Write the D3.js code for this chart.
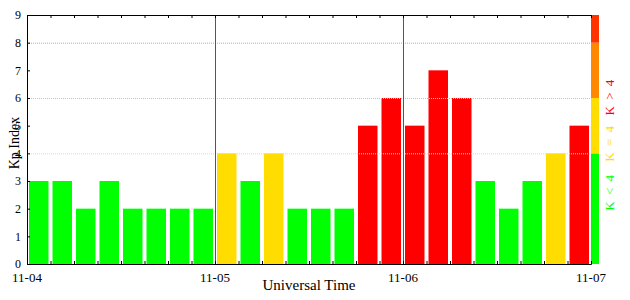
<!DOCTYPE html>
<html>
<head>
<meta charset="utf-8">
<script src="https://cdn.jsdelivr.net/npm/d3@7"></script>
<style>
body { margin: 0; background: #fff; }
text { font-family: "Liberation Serif", "DejaVu Serif", serif; }
</style>
</head>
<body>
<script>
// Kp values, 3-hour intervals, 11-04 to 11-07
var kpValues = [3, 3, 2, 3, 2, 2, 2, 2,
                4, 3, 4, 2, 2, 2, 5, 6,
                5, 7, 6, 3, 2, 3, 4, 5];
var dayLabels = ["11-04", "11-05", "11-06", "11-07"];
var yTicks = [0, 1, 2, 3, 4, 5, 6, 7, 8, 9];
var gridLevels = [4, 6, 8];
var gridColors = ["#ffdd55", "#ffaaaa", "#ff8888"];
var bands = [[0, 4, "#00ff00"], [4, 6, "#ffdd00"], [6, 8, "#ff8800"], [8, 9, "#ff3300"]];
var legendLabels = ["K < 4", "K = 4", "K > 4"];
var legendColors = ["#00ff00", "#ffdd00", "#ff0000"];
var legendPos = [2.6, 4.37, 6.04];

var W = 630, H = 300;
var margin = {top: 15, right: 39, bottom: 36, left: 27},
    width = W - margin.left - margin.right,
    height = H - margin.top - margin.bottom;

var svg = d3.select("body").append("svg")
    .attr("width", W)
    .attr("height", H);

var g = svg.append("g")
    .attr("transform", "translate(" + margin.left + "," + margin.top + ")");

var x = d3.scaleLinear().domain([0, kpValues.length]).range([0, width]);
var y = d3.scaleLinear().domain([0, 9]).range([height, 0]);

function barColor(d) {
    if (d < 4) return "#00ff00";
    if (d == 4) return "#ffdd00";
    return "#ff0000";
}

// bars
g.selectAll("rect.bar")
    .data(kpValues)
    .enter().append("rect")
    .attr("class", "bar")
    .attr("x", function(d, i) { return x(i) + 2; })
    .attr("width", x(1) - x(0) - 4)
    .attr("y", function(d) { return y(d); })
    .attr("height", function(d) { return height - y(d); })
    .attr("fill", barColor);

// dotted grid lines
g.selectAll("line.grid")
    .data(gridLevels)
    .enter().append("line")
    .attr("x1", 0).attr("x2", width)
    .attr("y1", function(d) { return y(d) + 0.5; })
    .attr("y2", function(d) { return y(d) + 0.5; })
    .attr("stroke", function(d, i) { return gridColors[i]; })
    .attr("stroke-width", 1)
    .attr("stroke-dasharray", "1,1");

// day separators
g.selectAll("line.day")
    .data([1, 2])
    .enter().append("line")
    .attr("x1", function(d) { return Math.round(x(d * 8)) + 0.5; })
    .attr("x2", function(d) { return Math.round(x(d * 8)) + 0.5; })
    .attr("y1", 0).attr("y2", height)
    .attr("stroke", "#555")
    .attr("stroke-width", 1);

// color scale bar on right
g.selectAll("rect.band")
    .data(bands)
    .enter().append("rect")
    .attr("x", width)
    .attr("width", 8)
    .attr("y", function(d) { return y(d[1]); })
    .attr("height", function(d) { return y(d[0]) - y(d[1]); })
    .attr("fill", function(d) { return d[2]; });

// axes
var yAxis = d3.axisLeft(y).tickValues(yTicks).tickSize(-3).tickPadding(6);
var yg = g.append("g").call(yAxis);
yg.select(".domain").attr("stroke", "#000");
yg.selectAll("text").attr("font-size", 12).attr("fill", "#000");

var steps = d3.range(0, kpValues.length + 1);
var xBottom = d3.axisBottom(x).tickValues(steps).tickSize(-3).tickFormat("");
var xbg = g.append("g").attr("transform", "translate(0," + height + ")").call(xBottom);
xbg.select(".domain").attr("stroke", "#000");

var xTop = d3.axisTop(x).tickValues(steps).tickSize(-3).tickFormat("");
var xtg = g.append("g").call(xTop);
xtg.select(".domain").attr("stroke", "#000");

// day labels
g.selectAll("text.day")
    .data(dayLabels)
    .enter().append("text")
    .attr("x", function(d, i) { return x(i * 8); })
    .attr("y", height + 18)
    .attr("text-anchor", "middle")
    .attr("font-size", 13)
    .text(function(d) { return d; });

// axis titles
svg.append("text")
    .attr("x", margin.left + width / 2)
    .attr("y", 290)
    .attr("text-anchor", "middle")
    .attr("font-size", 15)
    .text("Universal Time");

svg.append("text")
    .attr("transform", "translate(19," + (margin.top + y(4.37)) + ") rotate(-90)")
    .attr("text-anchor", "middle")
    .attr("font-size", 14)
    .text("Kp Index");

// legend labels
svg.selectAll("text.legend")
    .data(legendLabels)
    .enter().append("text")
    .attr("transform", function(d, i) {
        return "translate(" + 614 + "," + (margin.top + y(legendPos[i])) + ") rotate(-90)";
    })
    .attr("text-anchor", "middle")
    .attr("font-size", 13)
    .attr("letter-spacing", 1.5)
    .attr("fill", function(d, i) { return legendColors[i]; })
    .text(function(d) { return d; });
</script>
</body>
</html>
